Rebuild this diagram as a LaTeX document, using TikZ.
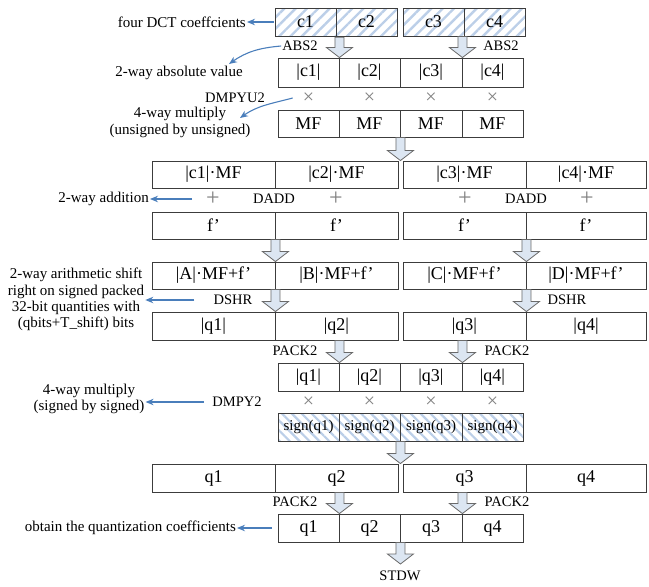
\documentclass[tikz,border=0pt]{standalone}
\usepackage{fontspec}
\setmainfont{Liberation Serif}
\usetikzlibrary{calc,patterns.meta,arrows.meta}
\definecolor{cellline}{HTML}{3C3C3C}
\definecolor{hatch}{HTML}{BCCFE8}
\definecolor{blockfill}{HTML}{DCE6F2}
\definecolor{blockline}{HTML}{6A6A6A}
\definecolor{noteblue}{HTML}{4A7EBB}
\definecolor{opgray}{HTML}{808080}
\begin{document}
\begin{tikzpicture}[x=1pt,y=-1pt,
  cell/.style={draw=cellline, line width=0.9pt, minimum height=28pt, inner sep=0pt,
    font=\fontsize{18}{18}\selectfont},
  hatchne/.style={pattern={Lines[angle=45,distance=8pt,line width=2.4pt]}, pattern color=hatch},
  hatchnw/.style={pattern={Lines[angle=-45,distance=7pt,line width=2.2pt]}, pattern color=hatch},
  oplab/.style={inner sep=1pt, font=\fontsize{14.5}{14.5}\selectfont},
  notelab/.style={inner sep=1pt, align=center, font=\fontsize{15}{16.3}\selectfont},
  opsign/.style={inner sep=1pt, text=opgray, font=\fontsize{20}{20}\selectfont},
  note/.style={draw=noteblue, line width=1.1pt, -{Stealth[length=8pt,width=6.5pt]}},
  blockarrow/.style={draw=blockline, fill=blockfill, line width=0.8pt,
    to path={let \p1=(\tikztostart), \p2=(\tikztotarget) in
      (\x1-4.5pt,\y1) -- (\x1+4.5pt,\y1) -- (\x1+4.5pt,\y2+10pt) -- (\x1+13pt,\y2+10pt)
      -- (\x1,\y2) -- (\x1-13pt,\y2+10pt) -- (\x1-4.5pt,\y2+10pt) -- cycle}}]
\useasboundingbox (0,0) rectangle (649,587);

% --- four DCT coefficients, in two packed registers
\foreach \n/\x/\t in {1/305.5/c1, 2/366.5/c2, 3/433.5/c3, 4/494.5/c4}
  \node[cell, hatchne, minimum width=61pt] (a\n) at (\x,22) {\t};

% --- absolute values
\foreach \n/\x/\w/\t in {1/308.5/61/{|c1|}, 2/369.5/61/{|c2|}, 3/431/62/{|c3|}, 4/492.5/61/{|c4|}}
  \node[cell, minimum width=\w pt, minimum height=29pt] (b\n) at (\x,72.5) {\t};
\foreach \n/\x in {1/308.5, 2/369.5, 3/431, 4/492.5}
  \node[opsign] (m\n) at (\x,98) {×};

% --- multipliers
\foreach \n/\x/\w in {1/308.5/61, 2/369.5/61, 3/431/62, 4/492.5/61}
  \node[cell, minimum width=\w pt, minimum height=27pt] (c\n) at (\x,123.5) {MF};

% --- products
\foreach \n/\x/\w/\t in {1/213.5/123/{|c1|·MF}, 2/336.5/123/{|c2|·MF}, 3/464.5/123/{|c3|·MF}, 4/586/120/{|c4|·MF}}
  \node[cell, minimum width=\w pt, minimum height=27pt] (d\n) at (\x,174.5) {\t};
\foreach \n/\x in {1/213, 2/336, 3/465, 4/587}
  \node[opsign, font=\fontsize{24}{24}\selectfont] (p\n) at (\x,199) {+};

% --- rounding offsets
\foreach \n/\x/\w in {1/213.5/123, 2/336.5/123, 3/464.5/123, 4/586/120}
  \node[cell, minimum width=\w pt, minimum height=27pt] (e\n) at (\x,225.5) {f’};

% --- sums
\foreach \n/\x/\w/\t in {1/213.5/123/{|A|·MF+f’}, 2/336.5/123/{|B|·MF+f’}, 3/464.5/123/{|C|·MF+f’}, 4/586/120/{|D|·MF+f’}}
  \node[cell, minimum width=\w pt, minimum height=27pt] (f\n) at (\x,275.5) {\t};

% --- shifted results
\foreach \n/\x/\w/\t in {1/213.5/123/{|q1|}, 2/336.5/123/{|q2|}, 3/464.5/123/{|q3|}, 4/586/120/{|q4|}}
  \node[cell, minimum width=\w pt] (g\n) at (\x,326) {\t};

% --- packed magnitudes
\foreach \n/\x/\w/\t in {1/308.5/61/{|q1|}, 2/369.5/61/{|q2|}, 3/431/62/{|q3|}, 4/492.5/61/{|q4|}}
  \node[cell, minimum width=\w pt] (h\n) at (\x,377) {\t};
\foreach \n/\x in {1/308.5, 2/369.5, 3/431, 4/492.5}
  \node[opsign] (n\n) at (\x,402) {×};

% --- signs
\foreach \n/\x/\w in {1/308.5/61, 2/369.5/61, 3/431/62, 4/492.5/61}
  \node[cell, hatchnw, minimum width=\w pt, font=\fontsize{15}{15}\selectfont] (i\n) at (\x,427) {sign(q\n)};

% --- signed results
\foreach \n/\x/\w in {1/213.5/123, 2/336.5/123, 3/464.5/123, 4/586/120}
  \node[cell, minimum width=\w pt] (j\n) at (\x,478) {q\n};

% --- packed quantized coefficients
\foreach \n/\x/\w in {1/308.5/61, 2/369.5/61, 3/431/62, 4/492.5/61}
  \node[cell, minimum width=\w pt] (k\n) at (\x,528) {q\n};

% --- instruction names
\node[oplab] (abs2l) at (300,46) {ABS2};
\node[oplab] (abs2r) at (501,46) {ABS2};
\node[oplab] (dmpyu2) at (235,98) {DMPYU2};
\node[oplab] (daddl) at (274,199) {DADD};
\node[oplab] (daddr) at (526,199) {DADD};
\node[oplab] (dshrl) at (233,300) {DSHR};
\node[oplab] (dshrr) at (567,300) {DSHR};
\node[oplab] (pack2l) at (295,351) {PACK2};
\node[oplab] (pack2r) at (507,351) {PACK2};
\node[oplab] (dmpy2) at (237,402) {DMPY2};
\node[oplab] (pack2lb) at (295,502) {PACK2};
\node[oplab] (pack2rb) at (507,502) {PACK2};
\node[oplab, anchor=north] (stdw) at (400,570) {STDW};
\coordinate (stdwtip) at (400,564);

% --- explanations
\node[notelab, anchor=east] (lab1) at (247,22) {four DCT coeffcients};
\node[notelab] (lab2) at (179,73) {2-way absolute value};
\node[notelab] (lab3) at (180,122.5) {4-way multiply\\(unsigned by unsigned)};
\node[notelab, anchor=east] (lab4) at (150,199) {2-way addition};
\node[notelab] (lab5) at (76,299.5) {2-way arithmetic shift\\right on signed packed\\32-bit quantities with\\(qbits+T\_shift) bits};
\node[notelab] (lab6) at (89,399) {4-way multiply\\(signed by signed)};
\node[notelab, anchor=east] (lab7) at (237,528) {obtain the quantization coefficients};
\coordinate (lab2tip) at (229,64);
\coordinate (lab3tip) at (240,118);

% --- data flow
\draw[blockarrow] (b1.north east |- a1.south) to (b1.north east);
\draw[blockarrow] (b3.north east |- a4.south) to (b3.north east);
\draw[blockarrow] (c2.south east) to (c2.south east |- d2.north);
\draw[blockarrow] (e1.south east) to (f1.north east);
\draw[blockarrow] (e3.south east) to (f3.north east);
\draw[blockarrow] (f1.south east) to (g1.north east);
\draw[blockarrow] (f3.south east) to (g3.north east);
\draw[blockarrow] (h1.north east |- g2.south) to (h1.north east);
\draw[blockarrow] (h3.north east |- g3.south) to (h3.north east);
\draw[blockarrow] (i2.south east) to (i2.south east |- j2.north);
\draw[blockarrow] (k1.north east |- j2.south) to (k1.north east);
\draw[blockarrow] (k3.north east |- j3.south) to (k3.north east);
\draw[blockarrow] (k2.south east) to (stdwtip);

% --- explanation pointers
\draw[note] (a1.west) -- (lab1.east);
\draw[note] (abs2l.west) to[out=185,in=35] (lab2tip);
\draw[note] ([xshift=-9pt]m1.west) to[out=195,in=35] (lab3tip);
\draw[note, shorten <=13pt] (p1.west) -- (lab4.east);
\draw[note, shorten <=18pt] (dshrl.west) -- (lab5.east |- dshrl.west);
\draw[note, shorten <=7pt] (dmpy2.west) -- (lab6.east |- dmpy2.west);
\draw[note, shorten <=6pt] (k1.west) -- (lab7.east);
\end{tikzpicture}
\end{document}
